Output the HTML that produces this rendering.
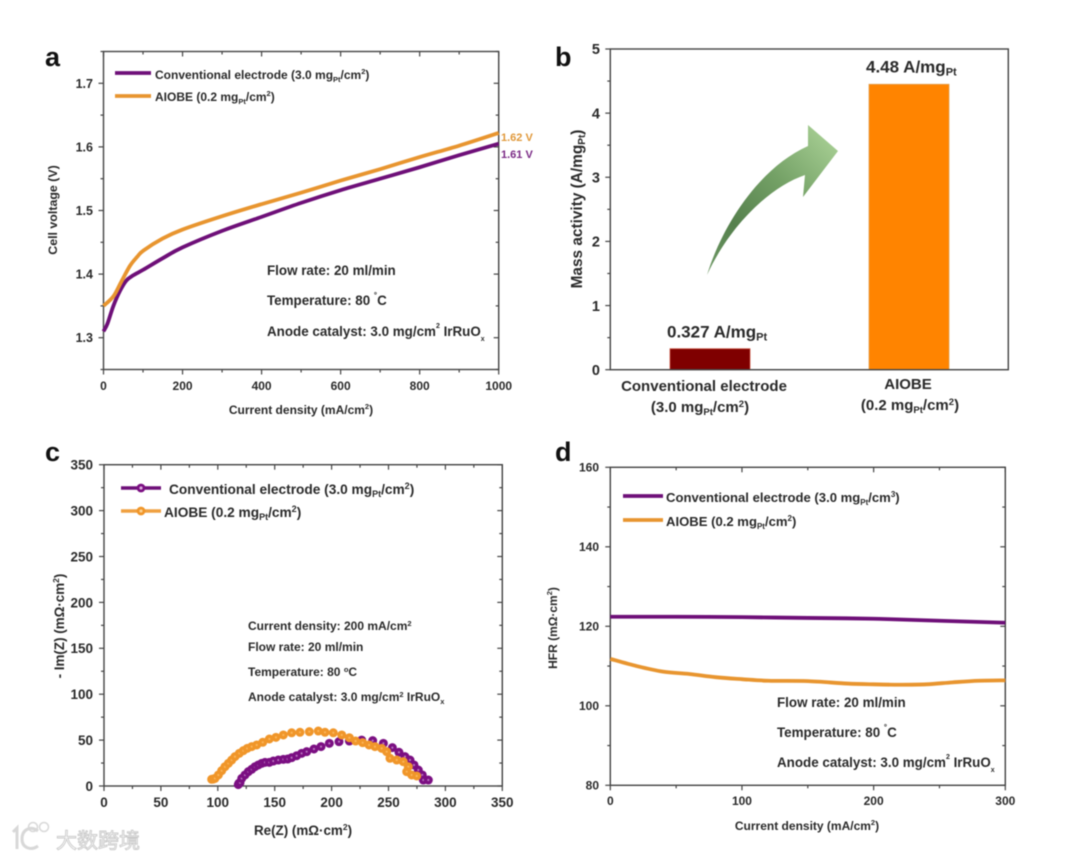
<!DOCTYPE html>
<html lang="en">
<head>
<meta charset="utf-8">
<title>Electrode performance comparison</title>
<style>
html,body{margin:0;padding:0;background:#fff;}
svg{display:block;filter:blur(0.45px);}
text{font-family:"Liberation Sans","Noto Sans CJK SC",sans-serif;font-weight:bold;fill:#2a2a2a;}
.pl{font-size:27px;fill:#111;}
</style>
</head>
<body>
<svg id="figure" xmlns="http://www.w3.org/2000/svg" width="1080" height="859" viewBox="0 0 1080 859">
  <defs>
    <linearGradient id="arrowGrad" gradientUnits="userSpaceOnUse" x1="707" y1="275" x2="838" y2="150">
      <stop offset="0" stop-color="#6f9a66"/>
      <stop offset="0.3" stop-color="#55804d"/>
      <stop offset="0.65" stop-color="#74a166"/>
      <stop offset="1" stop-color="#a3cb90"/>
    </linearGradient>
  </defs>
  <rect width="1080" height="859" fill="#fff"/>

  <text class="pl" x="45" y="66">a</text>
  <text class="pl" x="555" y="66">b</text>
  <text class="pl" x="45" y="461">c</text>
  <text class="pl" x="555" y="461">d</text>

  <g id="panelA">
    <line x1="115" y1="73" x2="151" y2="73" stroke="#6e0f78" stroke-width="3.8"/>
    <text x="155" y="79" font-size="12">Conventional electrode (3.0 mg<tspan font-size="7.5" dy="3">Pt</tspan><tspan dy="-3">/cm</tspan><tspan font-size="7.5" dy="-5">2</tspan><tspan dy="5">)</tspan></text>
    <line x1="115" y1="96" x2="151" y2="96" stroke="#e8952f" stroke-width="3.8"/>
    <text x="155" y="101" font-size="12">AIOBE (0.2 mg<tspan font-size="7.5" dy="3">Pt</tspan><tspan dy="-3">/cm</tspan><tspan font-size="7.5" dy="-5">2</tspan><tspan dy="5">)</tspan></text>
    <text x="267" y="275" font-size="13.4">Flow rate: 20 ml/min</text>
    <text x="267" y="305" font-size="13.4">Temperature: 80 <tspan font-size="8" dy="-7">°</tspan><tspan dy="7">C</tspan></text>
    <text x="267" y="336" font-size="13.4">Anode catalyst: 3.0 mg/cm<tspan font-size="7" dy="-8">2</tspan><tspan dy="8"> IrRuO</tspan><tspan font-size="7" dy="5">x</tspan></text>
    <text x="501" y="141" font-size="11" style="fill:#e0983a">1.62 V</text>
    <text x="501" y="158" font-size="11" style="fill:#7a2a85">1.61 V</text>
    <text x="301" y="414" font-size="12" text-anchor="middle">Current density (mA/cm<tspan font-size="7.5" dy="-5">2</tspan><tspan dy="5">)</tspan></text>
    <text transform="translate(57,210) rotate(-90)" font-size="12.4" text-anchor="middle">Cell voltage (V)</text>
  </g>

  <g id="panelB">
    <path d="M707 275 C720 232 755 170 808 146 L808 125 L838 151 L803 197 L805 175 C770 187 730 225 707 275 Z" fill="url(#arrowGrad)"/>
    <text x="704" y="391" font-size="15" text-anchor="middle">Conventional electrode</text>
    <text x="700" y="412" font-size="15" text-anchor="middle">(3.0 mg<tspan font-size="9.5" dy="3">Pt</tspan><tspan dy="-3">/cm</tspan><tspan font-size="9.5" dy="-5">2</tspan><tspan dy="5">)</tspan></text>
    <text x="908" y="389" font-size="15" text-anchor="middle">AIOBE</text>
    <text x="910" y="410" font-size="15" text-anchor="middle">(0.2 mg<tspan font-size="9.5" dy="3">Pt</tspan><tspan dy="-3">/cm</tspan><tspan font-size="9.5" dy="-5">2</tspan><tspan dy="5">)</tspan></text>
    <text transform="translate(582,209) rotate(-90)" font-size="15.4" text-anchor="middle">Mass activity (A/mg<tspan font-size="10" dy="3">Pt</tspan><tspan dy="-3">)</tspan></text>
  </g>

  <g id="panelC">
    <line x1="121" y1="488" x2="161" y2="488" stroke="#6e0f78" stroke-width="3.6"/>
    <circle cx="141" cy="488" r="3" fill="#d9a8dc" stroke="#7b0f82" stroke-width="2.8"/>
    <text x="169" y="494" font-size="13.7">Conventional electrode (3.0 mg<tspan font-size="9" dy="3">Pt</tspan><tspan dy="-3">/cm</tspan><tspan font-size="9" dy="-5">2</tspan><tspan dy="5">)</tspan></text>
    <line x1="121" y1="511" x2="161" y2="511" stroke="#f0a040" stroke-width="3.6"/>
    <circle cx="141" cy="511" r="3" fill="#fbd08e" stroke="#f0962a" stroke-width="2.8"/>
    <text x="164" y="517" font-size="13.7">AIOBE (0.2 mg<tspan font-size="9" dy="3">Pt</tspan><tspan dy="-3">/cm</tspan><tspan font-size="9" dy="-5">2</tspan><tspan dy="5">)</tspan></text>
    <text x="248" y="630" font-size="12">Current density: 200 mA/cm<tspan font-size="7.5" dy="-4">2</tspan></text>
    <text x="248" y="651" font-size="12">Flow rate: 20 ml/min</text>
    <text x="248" y="676" font-size="12">Temperature: 80 <tspan font-size="7.5" dy="-4">o</tspan><tspan dy="4">C</tspan></text>
    <text x="248" y="701" font-size="12">Anode catalyst: 3.0 mg/cm<tspan font-size="7.5" dy="-4">2</tspan><tspan dy="4"> IrRuO</tspan><tspan font-size="7.5" dy="3">x</tspan></text>
    <text x="303" y="835" font-size="13.4" text-anchor="middle">Re(Z) (mΩ·cm<tspan font-size="8.5" dy="-5">2</tspan><tspan dy="5">)</tspan></text>
    <text transform="translate(64,626) rotate(-90)" font-size="13.4" text-anchor="middle">- Im(Z) (mΩ·cm<tspan font-size="8.5" dy="-5">2</tspan><tspan dy="5">)</tspan></text>
  </g>

  <g id="panelD">
    <line x1="623" y1="496" x2="663" y2="496" stroke="#6e0f78" stroke-width="3.8"/>
    <text x="666" y="502" font-size="13.1">Conventional electrode (3.0 mg<tspan font-size="8" dy="3">Pt</tspan><tspan dy="-3">/cm</tspan><tspan font-size="8" dy="-5">3</tspan><tspan dy="5">)</tspan></text>
    <line x1="623" y1="520" x2="663" y2="520" stroke="#e8952f" stroke-width="3.8"/>
    <text x="666" y="526" font-size="13.1">AIOBE (0.2 mg<tspan font-size="8" dy="3">Pt</tspan><tspan dy="-3">/cm</tspan><tspan font-size="8" dy="-5">2</tspan><tspan dy="5">)</tspan></text>
    <text x="777" y="707" font-size="13.4">Flow rate: 20 ml/min</text>
    <text x="777" y="737" font-size="13.4">Temperature: 80 <tspan font-size="8" dy="-7">°</tspan><tspan dy="7">C</tspan></text>
    <text x="777" y="767" font-size="13.4">Anode catalyst: 3.0 mg/cm<tspan font-size="7" dy="-8">2</tspan><tspan dy="8"> IrRuO</tspan><tspan font-size="7" dy="5">x</tspan></text>
    <text x="807" y="830" font-size="12" text-anchor="middle">Current density (mA/cm<tspan font-size="7.5" dy="-5">2</tspan><tspan dy="5">)</tspan></text>
    <text transform="translate(557,628) rotate(-90)" font-size="12" text-anchor="middle">HFR (mΩ·cm<tspan font-size="7.5" dy="-5">2</tspan><tspan dy="5">)</tspan></text>
  </g>

  <g opacity="0.95">
    <path d="M13 832 L17 828 L17 849 M38 831 C30 825 22 830 22 839 C22 848 31 851 38 846" fill="none" stroke="#d6d6d6" stroke-width="3"/>
    <circle cx="33" cy="827" r="4.500" fill="none" stroke="#d6d6d6" stroke-width="1.500"/>
    <circle cx="44" cy="827" r="4.500" fill="none" stroke="#d6d6d6" stroke-width="1.500"/>
    <text x="56" y="848" font-size="21" style="fill:#fff;stroke:#c8c8c8;stroke-width:0.9px;font-weight:normal">大数跨境</text>
  </g>
</svg>

<script>
/* Panel a: polarization curves */
const aConvCurrent = [0, 10, 25, 42, 58, 75, 101, 150, 200, 300, 400, 500, 600, 700, 800, 900, 1000];
const aConvVoltage = [1.31, 1.322, 1.35, 1.374, 1.39, 1.398, 1.407, 1.425, 1.442, 1.468, 1.49, 1.512, 1.532, 1.55, 1.568, 1.587, 1.605];
const aAiobeCurrent = [0, 25, 45, 67, 85, 101, 150, 200, 300, 400, 500, 600, 700, 800, 900, 1000];
const aAiobeVoltage = [1.35, 1.365, 1.388, 1.413, 1.427, 1.437, 1.456, 1.47, 1.491, 1.51, 1.528, 1.547, 1.565, 1.584, 1.602, 1.622];
const aXMajor = [0, 200, 400, 600, 800, 1000];
const aXMinor = [100, 300, 500, 700, 900];
const aYMajor = [1.3, 1.4, 1.5, 1.6, 1.7];
const aYMinor = [1.25, 1.35, 1.45, 1.55, 1.65, 1.75];
const aYLabels = ['1.3', '1.4', '1.5', '1.6', '1.7'];

/* Panel b: mass activity bars */
const bCategories = ['Conventional electrode', 'AIOBE'];
const bValues = [0.327, 4.45];
const bPrintedValues = ['0.327', '4.48'];
const bYMajor = [0, 1, 2, 3, 4, 5];
const bYMinor = [0.5, 1.5, 2.5, 3.5, 4.5];

/* Panel c: Nyquist data */
const cConvRe = [118, 118.5, 119.5, 121, 123.9, 126.8, 129.8, 132.7, 135.6, 138.6, 141.5, 145.3, 148.8, 153.2, 157.6, 161.4, 164.9, 169.3, 173.7, 178.1, 184.5, 190.7, 198, 206.5, 215.6, 226.4, 236.1, 245.5, 253.4, 259.2, 264.5, 268.9, 272.4, 276.2, 279.7, 280.6, 285];
const cConvIm = [1.5, 3, 3.6, 8.3, 12, 15.6, 18.2, 21, 22.9, 24.7, 25.8, 25.8, 27.2, 28.3, 29, 29.4, 30.9, 33, 35.6, 37.4, 40.3, 42.9, 46.5, 48.3, 49, 50, 49.4, 46.5, 41.8, 36.7, 32, 28.3, 22.9, 17.4, 12, 6.5, 6.5];
const cAiobeRe = [94.6, 96, 97.5, 100.5, 103.4, 106.3, 109.3, 112.2, 115.1, 118.9, 122.4, 125.9, 129.8, 134.2, 139.5, 145.3, 151.1, 157.6, 164.9, 172.2, 180.4, 188.3, 194.2, 201.5, 208.9, 215.6, 221.1, 227.3, 232.9, 238.1, 244, 248.4, 251.3, 257.2, 263, 267.4, 266, 270.4, 274.8];
const cAiobeIm = [7.3, 7.5, 8.3, 12, 16.7, 21, 24.7, 28.3, 32, 35.6, 38.5, 41, 42.9, 44.7, 47.6, 51.2, 53, 55.6, 58, 58.5, 59.2, 59.9, 58.5, 58, 55.6, 52.6, 49, 47.2, 44.7, 42.9, 41, 37.4, 30.2, 28.3, 26.5, 21, 15.6, 12, 10.9];
const cMajor = [0, 50, 100, 150, 200, 250, 300, 350];
const cMinor = [25, 75, 125, 175, 225, 275, 325];
const cLabels = ['0', '50', '100', '150', '200', '250', '300', '350'];

/* Panel d: HFR curves */
const dConvCurrent = [0, 50, 100, 150, 200, 250, 300];
const dConvHfr = [122.4, 122.4, 122.3, 122.1, 121.9, 121.4, 120.9];
const dAiobeCurrent = [0, 20, 40, 60, 80, 100, 120, 150, 180, 200, 220, 240, 260, 280, 300];
const dAiobeHfr = [111.8, 110, 108.6, 108, 107.2, 106.7, 106.3, 106.2, 105.6, 105.4, 105.3, 105.4, 105.9, 106.3, 106.4];
const dXMajor = [0, 100, 200, 300];
const dXMinor = [50, 150, 250];
const dYMajor = [80, 100, 120, 140, 160];
const dYMinor = [90, 110, 130, 150];

const SVG_NS = 'http://www.w3.org/2000/svg';
const AXIS_COLOR = '#444';

function make(tag, parent, attrs) {
  const el = document.createElementNS(SVG_NS, tag);
  for (const k in attrs) el.setAttribute(k, attrs[k]);
  parent.appendChild(el);
  return el;
}
function scale(d0, d1, r0, r1) {
  return function (v) { return r0 + (v - d0) * (r1 - r0) / (d1 - d0); };
}
function smoothPath(xs, ys, fx, fy) {
  const p = xs.map(function (x, i) { return [fx(x), fy(ys[i])]; });
  let d = 'M' + p[0][0].toFixed(2) + ' ' + p[0][1].toFixed(2);
  for (let i = 0; i < p.length - 1; i++) {
    const a = p[Math.max(i - 1, 0)], b = p[i], c = p[i + 1], e = p[Math.min(i + 2, p.length - 1)];
    d += 'C' + (b[0] + (c[0] - a[0]) / 6).toFixed(2) + ' ' + (b[1] + (c[1] - a[1]) / 6).toFixed(2) + ' ' +
      (c[0] - (e[0] - b[0]) / 6).toFixed(2) + ' ' + (c[1] - (e[1] - b[1]) / 6).toFixed(2) + ' ' +
      c[0].toFixed(2) + ' ' + c[1].toFixed(2);
  }
  return d;
}
function drawFrame(g, box) {
  const el = make('rect', g, { x: box.l, y: box.t, width: box.r - box.l, height: box.b - box.t, fill: 'none', stroke: AXIS_COLOR, 'stroke-width': 1.4 });
  
  
}
function drawXTicks(g, values, fx, box, len, mirror) {
  values.forEach(function (v) {
    const x = fx(v);
    const tick = make('line', g, { x1: x, x2: x, y1: box.b, y2: box.b + len, stroke: AXIS_COLOR, 'stroke-width': 1.2 });
    
    
    if (mirror) {
      const top = make('line', g, { x1: x, x2: x, y1: box.t, y2: box.t + len, stroke: AXIS_COLOR, 'stroke-width': 1.2 });
      
      
    }
  });
}
function drawYTicks(g, values, fy, box, len, mirror) {
  values.forEach(function (v) {
    const y = fy(v);
    const tick = make('line', g, { x1: box.l - len, x2: box.l, y1: y, y2: y, stroke: AXIS_COLOR, 'stroke-width': 1.2 });
    
    
    if (mirror) {
      const right = make('line', g, { x1: box.r - len, x2: box.r, y1: y, y2: y, stroke: AXIS_COLOR, 'stroke-width': 1.2 });
      
      
    }
  });
}
function drawXLabels(g, values, labels, fx, y, size) {
  values.forEach(function (v, i) {
    const t = make('text', g, { x: fx(v), y: y, 'font-size': size, 'text-anchor': 'middle' });
    t.textContent = labels[i];
    
    
  });
}
function drawYLabels(g, values, labels, fy, x, size) {
  values.forEach(function (v, i) {
    const t = make('text', g, { x: x, y: fy(v) + size * 0.36, 'font-size': size, 'text-anchor': 'end' });
    t.textContent = labels[i];
    
    
  });
}
function drawCurve(g, xs, ys, fx, fy, color, width) {
  const el = make('path', g, { d: smoothPath(xs, ys, fx, fy), fill: 'none', stroke: color, 'stroke-width': width, 'stroke-linejoin': 'round' });
  return el;
}

/* ---------- Panel a ---------- */
const boxA = { l: 103.5, r: 498.7, t: 51.5, b: 369.5 };
const xA = scale(0, 1000, boxA.l, boxA.r);
const yA = scale(1.25, 1.75, boxA.b, boxA.t);
const gA = document.getElementById('panelA');
drawFrame(gA, boxA);
drawXTicks(gA, aXMajor, xA, boxA, 5, true);
drawXTicks(gA, aXMinor, xA, boxA, 3, true);
drawYTicks(gA, aYMajor, yA, boxA, 5, true);
drawYTicks(gA, aYMinor, yA, boxA, 3, true);
drawXLabels(gA, aXMajor, aXMajor.map(String), xA, 390, 12);
drawYLabels(gA, aYMajor, aYLabels, yA, 93, 12.5);
const aConvLine = drawCurve(gA, aConvCurrent, aConvVoltage, xA, yA, '#6e0f78', 3.8);


const aAiobeLine = drawCurve(gA, aAiobeCurrent, aAiobeVoltage, xA, yA, '#e8952f', 3.8);



/* ---------- Panel b ---------- */
const boxB = { l: 610.3, r: 1008.3, t: 49, b: 369.7 };
const yB = scale(0, 5, boxB.b, boxB.t);
const gB = document.getElementById('panelB');
const bCenters = scale(0, 1, 710, 909);
const bColors = ['#7f0000', '#ff8400'];
const bBorders = ['#c9503f', '#e0a050'];
const bLabelGap = [11, 12];
bValues.forEach(function (v, i) {
  const cx = bCenters(i);
  const bar = make('rect', gB, { x: cx - 40, y: yB(v), width: 80, height: boxB.b - yB(v), fill: bColors[i], stroke: bBorders[i], 'stroke-width': 0.8 });
  
  
  const label = make('text', gB, { x: cx - 43, y: yB(v) - bLabelGap[i], 'font-size': 17 });
  label.textContent = bPrintedValues[i] + ' A/mg';
  const sub = make('tspan', label, { 'font-size': 11, dy: 3 });
  sub.textContent = 'Pt';
  
  
});
drawFrame(gB, boxB);
drawYTicks(gB, bYMajor, yB, boxB, 5, false);
drawYTicks(gB, bYMinor, yB, boxB, 3, false);
drawYLabels(gB, bYMajor, bYMajor.map(String), yB, 600, 14.5);

/* ---------- Panel c ---------- */
const boxC = { l: 104, r: 502.3, t: 464.7, b: 786 };
const xC = scale(0, 350, boxC.l, boxC.r);
const yC = scale(0, 350, boxC.b, boxC.t);
const gC = document.getElementById('panelC');
drawFrame(gC, boxC);
drawXTicks(gC, cMajor, xC, boxC, 5, true);
drawXTicks(gC, cMinor, xC, boxC, 3, true);
drawYTicks(gC, cMajor, yC, boxC, 5, true);
drawYTicks(gC, cMinor, yC, boxC, 3, true);
drawXLabels(gC, cMajor, cLabels, xC, 807, 13.5);
drawYLabels(gC, cMajor, cLabels, yC, 93, 13.5);
cConvRe.forEach(function (re, i) {
  const pt = make('circle', gC, { cx: xC(re), cy: yC(cConvIm[i]), r: 2.8, fill: '#b877bf', stroke: '#7b0f82', 'stroke-width': 3.4 });
  
  
});
cAiobeRe.forEach(function (re, i) {
  const pt = make('circle', gC, { cx: xC(re), cy: yC(cAiobeIm[i]), r: 2.8, fill: '#fbb65a', stroke: '#f0962a', 'stroke-width': 3.4 });
  
  
});

/* ---------- Panel d ---------- */
const boxD = { l: 610.3, r: 1005.3, t: 467.3, b: 785.3 };
const xD = scale(0, 300, boxD.l, boxD.r);
const yD = scale(80, 160, boxD.b, boxD.t);
const gD = document.getElementById('panelD');
drawFrame(gD, boxD);
drawXTicks(gD, dXMajor, xD, boxD, 5, true);
drawXTicks(gD, dXMinor, xD, boxD, 3, true);
drawYTicks(gD, dYMajor, yD, boxD, 5, true);
drawYTicks(gD, dYMinor, yD, boxD, 3, true);
drawXLabels(gD, dXMajor, dXMajor.map(String), xD, 805, 12);
drawYLabels(gD, dYMajor, dYMajor.map(String), yD, 599, 12);
const dConvLine = drawCurve(gD, dConvCurrent, dConvHfr, xD, yD, '#6e0f78', 3.8);


const dAiobeLine = drawCurve(gD, dAiobeCurrent, dAiobeHfr, xD, yD, '#e8952f', 3.8);


</script>
</body>
</html>
